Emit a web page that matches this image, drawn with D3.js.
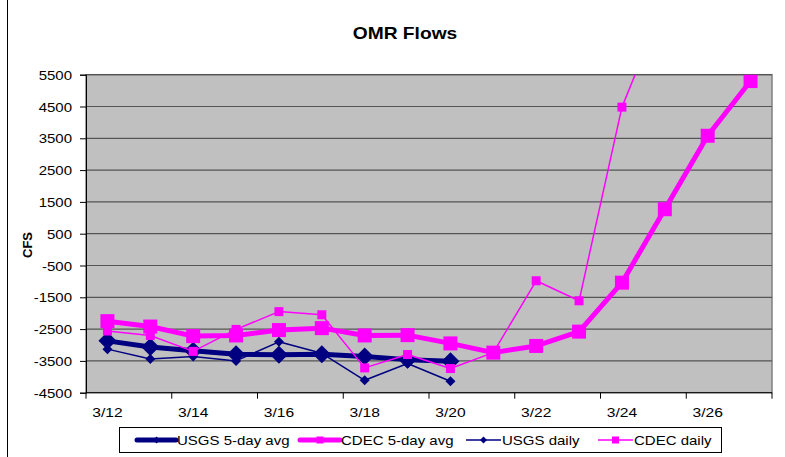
<!DOCTYPE html>
<html>
<head>
<meta charset="utf-8">
<script src="https://cdn.jsdelivr.net/npm/d3@7"></script>
<style>
body { margin: 0; background: #fff; }
text { font-family: Arial, "Liberation Sans", sans-serif; }
</style>
</head>
<body>
<script>
// days on the x axis
var dates = ["3/12","3/13","3/14","3/15","3/16","3/17","3/18","3/19","3/20","3/21","3/22","3/23","3/24","3/25","3/26","3/27"];
var tickLabels = ["3/12","3/14","3/16","3/18","3/20","3/22","3/24","3/26"];
var yTicks = [5500,4500,3500,2500,1500,500,-500,-1500,-2500,-3500,-4500];

var usgsAvg   = [-2870,-3060,-3180,-3290,-3310,-3290,-3360,-3460,-3510,null,null,null,null,null,null,null];
var cdecAvg   = [-2250,-2420,-2720,-2700,-2530,-2470,-2700,-2690,-2950,-3240,-3030,-2580,-1040,1270,3580,5300];
var usgsDaily = [-3130,-3440,-3360,-3500,-2900,-3260,-4110,-3580,-4140,null,null,null,null,null,null,null];
var cdecDaily = [-2560,-2700,-3200,-2510,-1950,-2050,-3720,-3300,-3740,-3240,-980,-1610,4480,7800,null,null];

var W = 785, H = 457;
// plot area edges (not "top" - that one is taken by window.top)
var pLeft = 86, pRight = 772, pTop = 74.7, pBottom = 392.7;
var sx = 1.2; // the original text looks stretched sideways

var svg = d3.select("body").append("svg")
  .attr("width", W).attr("height", H);

// put a text at (tx,ty), widened by sx
var label = function(g, tx, ty, str, size, anchor, bold){
  return g.append("text")
    .attr("transform", "translate(" + tx + "," + ty + ") scale(" + sx + ",1)")
    .attr("text-anchor", anchor).attr("font-size", size)
    .attr("font-weight", bold ? "bold" : "normal").text(str);
};

// thin frame line at left
svg.append("line").attr("x1", 7.5).attr("x2", 7.5).attr("y1", 0).attr("y2", H)
  .attr("stroke", "#000").attr("stroke-width", 1);

var x = d3.scaleBand().domain(dates).range([pLeft, pRight]);
var y = d3.scaleLinear().domain([-4500, 5500]).range([pBottom, pTop]);
var cx = function(d){ return x(d) + x.bandwidth() / 2; };

// plot area
svg.append("rect").attr("x", pLeft).attr("y", pTop)
  .attr("width", pRight - pLeft).attr("height", pBottom - pTop)
  .attr("fill", "#c0c0c0").attr("stroke", "#808080").attr("stroke-width", 1.5);

// gridlines
svg.append("g").selectAll("line").data(yTicks.slice(0, -1)).enter().append("line")
  .attr("x1", pLeft).attr("x2", pRight)
  .attr("y1", function(d){ return y(d); }).attr("y2", function(d){ return y(d); })
  .attr("stroke", "#555").attr("stroke-width", 1.2);

// y axis
var yAxis = svg.append("g").attr("transform", "translate(" + pLeft + ",0)")
  .call(d3.axisLeft(y).tickValues(yTicks).tickSize(6).tickFormat(function(d){ return String(d); }));
yAxis.select(".domain").attr("stroke", "#000");
yAxis.selectAll(".tick text").remove();
yAxis.selectAll(".tick").each(function(d){
  label(d3.select(this), -14, 4.5, String(d), 12.5, "end", false).attr("fill", "#000");
});

// x axis: ticks between every second day
var xAxis = svg.append("g").attr("transform", "translate(0," + pBottom + ")");
xAxis.append("line").attr("x1", pLeft).attr("x2", pRight).attr("stroke", "#000");
var tickPos = d3.range(0, dates.length + 1, 2).map(function(i){ return pLeft + i * x.step(); });
xAxis.selectAll("line.tk").data(tickPos).enter().append("line")
  .attr("class", "tk").attr("x1", function(d){ return d; }).attr("x2", function(d){ return d; })
  .attr("y1", 0).attr("y2", 6).attr("stroke", "#000");
tickLabels.forEach(function(t){
  label(xAxis, cx(t), 24, t, 13, "middle", false);
});

// titles
label(svg, 405, 39, "OMR Flows", 16, "middle", true);
svg.append("text").attr("transform", "translate(32,245) rotate(-90)")
  .attr("text-anchor", "middle").attr("font-size", 13).attr("font-weight", "bold").text("CFS");

svg.append("clipPath").attr("id", "plotclip").append("rect")
  .attr("x", pLeft).attr("y", pTop).attr("width", pRight - pLeft + 10).attr("height", pBottom - pTop + 20);
var plot = svg.append("g").attr("clip-path", "url(#plotclip)");

var series = [
  { name: "USGS 5-day avg", vals: usgsAvg, color: "#000080", width: 5, shape: "diamond", size: 9 },
  { name: "CDEC 5-day avg", vals: cdecAvg, color: "#ff00ff", width: 5, shape: "square", size: 7 },
  { name: "USGS daily", vals: usgsDaily, color: "#000080", width: 1.5, shape: "diamond", size: 5 },
  { name: "CDEC daily", vals: cdecDaily, color: "#ff00ff", width: 1.5, shape: "square", size: 4.5 }
];

function marker(g, s, px, py){
  if (s.shape === "square") {
    g.append("rect").attr("x", px - s.size).attr("y", py - s.size)
      .attr("width", s.size * 2).attr("height", s.size * 2).attr("fill", s.color);
  } else {
    g.append("path").attr("d", "M" + px + "," + (py - s.size) + "L" + (px + s.size) + "," + py +
      "L" + px + "," + (py + s.size) + "L" + (px - s.size) + "," + py + "Z").attr("fill", s.color);
  }
}

var line = d3.line()
  .defined(function(d){ return d.v !== null; })
  .x(function(d){ return cx(d.d); })
  .y(function(d){ return y(d.v); });

series.forEach(function(s){
  var pts = dates.map(function(d, i){ return { d: d, v: s.vals[i] }; });
  plot.append("path").datum(pts).attr("d", line)
    .attr("fill", "none").attr("stroke", s.color).attr("stroke-width", s.width)
    .attr("stroke-linejoin", "round");
  pts.filter(function(p){ return p.v !== null && p.v <= 5500; }).forEach(function(p){
    marker(plot, s, cx(p.d), y(p.v));
  });
});

// legend
var lg = svg.append("g");
lg.append("rect").attr("x", 119.5).attr("y", 427.5).attr("width", 602).attr("height", 25)
  .attr("fill", "#fff").attr("stroke", "#000").attr("stroke-width", 1);
var lx = [137, 300, 466, 598];
var lw = [39, 40, 35, 35];
series.forEach(function(s, i){
  var ly = 440;
  lg.append("line").attr("x1", lx[i]).attr("x2", lx[i] + lw[i]).attr("y1", ly).attr("y2", ly)
    .attr("stroke", s.color).attr("stroke-width", s.width).attr("stroke-linecap", i < 2 ? "round" : "butt");
  var ms = { shape: s.shape, color: s.color, size: 3.5 };
  marker(lg, ms, lx[i] + lw[i] / 2, ly);
  label(lg, lx[i] + lw[i] + 1, ly + 4.5, s.name, 12.5, "start", false);
});
</script>
</body>
</html>
